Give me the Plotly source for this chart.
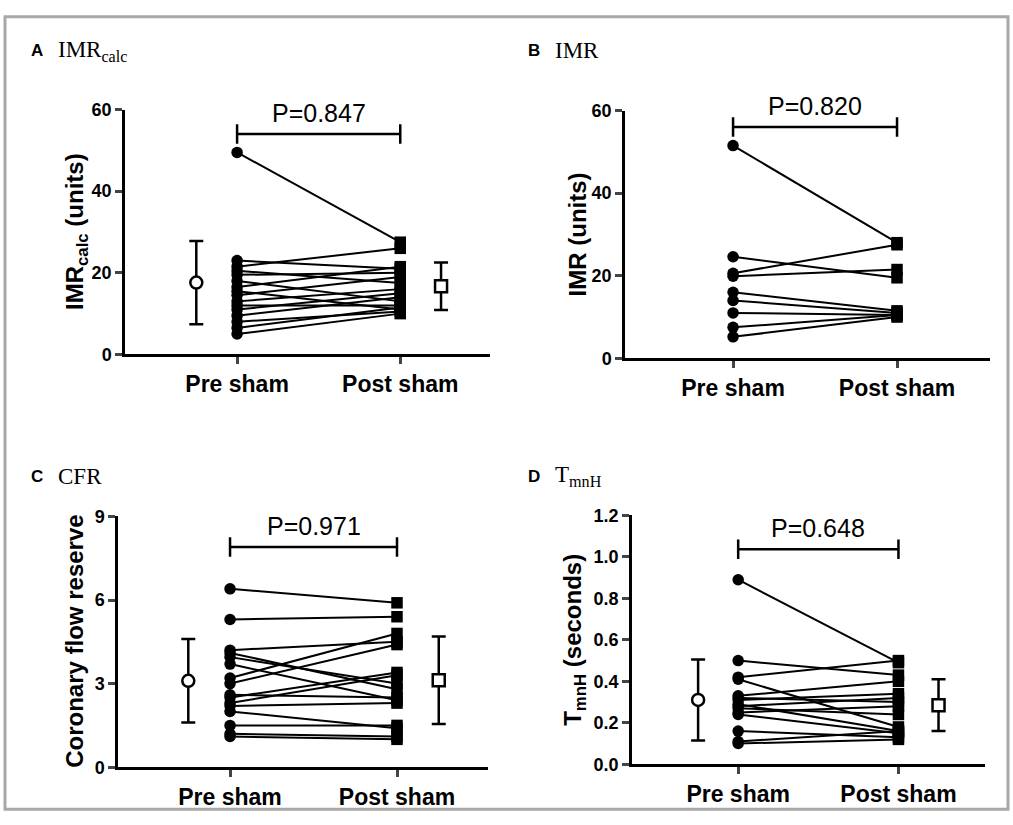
import plotly.graph_objects as go

W, H = 1013, 825
SANS = "Liberation Sans, Arial, sans-serif"
SERIF = "Liberation Serif, Times New Roman, serif"

# ---------------- data ----------------
groups = ["Pre sham", "Post sham"]

imrcalc_pre = [49.5, 23.0, 21.5, 20.5, 19.5, 18.0, 16.5, 15.5, 14.5, 13.0, 12.0, 11.0, 9.5, 8.0, 6.5, 5.0]
imrcalc_post = [27.5, 21.0, 26.0, 17.5, 20.0, 13.0, 21.5, 11.0, 19.0, 16.0, 12.0, 15.0, 14.0, 10.5, 11.5, 10.0]
imrcalc_mean = [17.6, 16.7]
imrcalc_sd = [10.2, 5.8]

imr_pre = [51.5, 24.6, 20.6, 19.9, 16.0, 14.0, 11.0, 7.5, 5.2]
imr_post = [28.0, 19.5, 27.5, 21.5, 11.5, 11.0, 10.5, 10.5, 10.0]

cfr_pre = [6.4, 5.3, 4.2, 4.1, 3.95, 3.7, 3.2, 3.0, 2.6, 2.5, 2.3, 2.2, 2.0, 1.5, 1.2, 1.1]
cfr_post = [5.9, 5.4, 4.5, 2.8, 3.0, 2.4, 4.8, 4.4, 2.5, 3.4, 3.3, 2.3, 1.4, 1.5, 1.1, 1.0]
cfr_mean = [3.1, 3.12]
cfr_sd = [1.5, 1.57]

tmnh_pre = [0.89, 0.50, 0.42, 0.41, 0.33, 0.32, 0.31, 0.29, 0.28, 0.27, 0.25, 0.24, 0.16, 0.11, 0.10]
tmnh_post = [0.49, 0.43, 0.50, 0.18, 0.40, 0.30, 0.34, 0.16, 0.32, 0.24, 0.28, 0.15, 0.13, 0.16, 0.12]
tmnh_mean = [0.31, 0.285]
tmnh_sd = [0.195, 0.125]

p_texts = ["P=0.847", "P=0.820", "P=0.971", "P=0.648"]
bracket_y = [54.0, 56.0, 7.9, 1.037]

panel_letters = ["A", "B", "C", "D"]
panel_titles = ["IMR<sub>calc</sub>", "IMR", "CFR", "T<sub>mnH</sub>"]
y_titles = ["IMR<sub>calc</sub> (units)", "IMR (units)", "Coronary flow reserve", "T<sub>mnH</sub> (seconds)"]
y_ranges = [[0, 60], [0, 60], [0, 9], [0, 1.2]]
y_ticks = [[0, 20, 40, 60], [0, 20, 40, 60], [0, 3, 6, 9], [0, 0.2, 0.4, 0.6, 0.8, 1.0, 1.2]]

# ---------------- layout geometry (pixels) ----------------
# (left, right, top, bottom) of each plotting area
boxes = [(125, 490, 102, 353), (625, 990, 103, 357), (118, 488, 519, 776), (632, 985, 518, 773)]
x_ranges = [[0.313, 2.55], [0.341, 2.567], [0.329, 2.545], [0.3375, 2.54]]
title_pos = [(29, 42), (526, 42), (29, 478), (526, 478)]
ytitle_x = [77, 577, 75, 575]

series = [(imrcalc_pre, imrcalc_post, imrcalc_mean, imrcalc_sd),
          (imr_pre, imr_post, None, None),
          (cfr_pre, cfr_post, cfr_mean, cfr_sd),
          (tmnh_pre, tmnh_post, tmnh_mean, tmnh_sd)]

fig = go.Figure()
shapes = []
annotations = []
layout = {}

for i in range(4):
    sfx = "" if i == 0 else str(i + 1)
    xa, ya = "x" + sfx, "y" + sfx
    l, r, t, b = boxes[i]
    pre, post, mean, sd = series[i]
    for a, c in zip(pre, post):
        fig.add_trace(go.Scatter(
            x=[1, 2], y=[a, c], mode="lines+markers", xaxis=xa, yaxis=ya,
            line=dict(color="black", width=2),
            marker=dict(symbol=["circle", "square"], size=11.5, color="black"),
            showlegend=False, hoverinfo="skip", cliponaxis=False))
    if mean is not None:
        for xv, m, s, sym in [(0.75, mean[0], sd[0], "circle"), (2.25, mean[1], sd[1], "square")]:
            fig.add_trace(go.Scatter(
                x=[xv], y=[m], mode="markers", xaxis=xa, yaxis=ya,
                marker=dict(symbol=sym, size=12, color="white", line=dict(color="black", width=2.5)),
                error_y=dict(type="data", array=[s], color="black", thickness=2.5, width=7),
                showlegend=False, hoverinfo="skip", cliponaxis=False))

    layout["xaxis" + sfx] = dict(
        domain=[l / W, r / W], range=x_ranges[i], anchor=ya,
        tickvals=[1, 2], ticktext=groups, ticks="outside", ticklen=7, tickwidth=2.5,
        showline=True, linecolor="black", linewidth=2.5, showgrid=False, zeroline=False,
        tickfont=dict(family=SANS, size=23, color="black", weight="bold"))
    layout["yaxis" + sfx] = dict(
        domain=[1 - b / H, 1 - t / H], range=y_ranges[i], anchor=xa,
        tickvals=y_ticks[i], tickformat=".1f" if i == 3 else "d",
        ticks="outside", ticklen=7, tickwidth=2.5,
        showline=True, linecolor="black", linewidth=2.5, showgrid=False, zeroline=False,
        tickfont=dict(family=SANS, size=18, color="black", weight="bold"))

    # p-value bracket
    pxu = (b - t) / (y_ranges[i][1] - y_ranges[i][0])
    cap = 10 / pxu
    by = bracket_y[i]
    shapes.append(dict(type="line", xref=xa, yref=ya, x0=1, x1=2, y0=by, y1=by,
                       line=dict(color="black", width=2.5)))
    for xv in (1, 2):
        shapes.append(dict(type="line", xref=xa, yref=ya, x0=xv, x1=xv, y0=by - cap, y1=by + cap,
                           line=dict(color="black", width=2.5)))
    annotations.append(dict(text=p_texts[i], xref=xa, yref=ya, x=1.5, y=by, yanchor="bottom",
                            yshift=5, showarrow=False,
                            font=dict(family=SANS, size=25, color="black")))

    # panel title
    tx, ty = title_pos[i]
    annotations.append(dict(text="<b>" + panel_letters[i] + "</b>", xref="paper", yref="paper",
                            x=tx / W, y=1 - ty / H, xanchor="left", yanchor="middle", showarrow=False,
                            font=dict(family=SANS, size=17, color="black")))
    annotations.append(dict(text=panel_titles[i], xref="paper", yref="paper",
                            x=(tx + 27) / W, y=1 - ty / H, xanchor="left", yanchor="middle", showarrow=False,
                            font=dict(family=SERIF, size=23, color="black")))
    # y axis title
    annotations.append(dict(text="<b>" + y_titles[i] + "</b>", xref="paper", yref="paper",
                            x=ytitle_x[i] / W, y=1 - (t + b) / 2 / H, xanchor="center", yanchor="middle",
                            textangle=-90, showarrow=False,
                            font=dict(family=SANS, size=24, color="black")))

# outer frame
shapes.append(dict(type="rect", xref="paper", yref="paper", x0=5 / W, x1=1008 / W, y0=1 - 819 / H, y1=1 - 7 / H,
                   line=dict(color="#a8a8a8", width=3)))

fig.update_layout(width=W, height=H, margin=dict(l=0, r=0, t=0, b=0),
                  paper_bgcolor="white", plot_bgcolor="white",
                  shapes=shapes, annotations=annotations, **layout)
fig.write_html("out.html", config={"displayModeBar": False},
               post_script="document.body.style.margin='0px';document.body.style.overflow='hidden';")
